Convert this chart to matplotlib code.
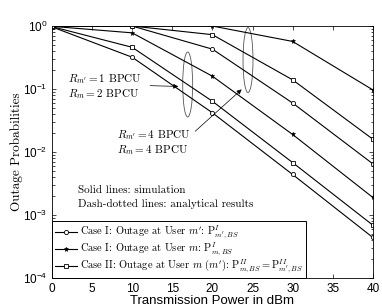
import numpy as np
import matplotlib
matplotlib.use('Agg')
import matplotlib.pyplot as plt
from matplotlib.patches import Ellipse
from matplotlib.font_manager import FontProperties

plt.rcParams['font.family'] = ['Liberation Sans', 'DejaVu Sans']
plt.rcParams['mathtext.fontset'] = 'cm'

# Transmission power (dBm)
power = [0, 10, 20, 30, 40]

# R_m' = 4, R_m = 4 BPCU
c1_mp_r44 = [1.0, 1.0, 0.43, 0.06, 0.0065]
c1_m_r44 = [1.0, 1.0, 1.0, 0.57, 0.097]
c2_r44 = [1.0, 1.0, 0.73, 0.14, 0.016]

# R_m' = 1, R_m = 2 BPCU
c1_mp_r12 = [0.97, 0.32, 0.042, 0.0044, 0.00044]
c1_m_r12 = [0.99, 0.78, 0.16, 0.019, 0.0019]
c2_r12 = [0.98, 0.46, 0.064, 0.0068, 0.00069]

labels = [r"Case I: Outage at User $m'$: $\mathrm{P}^{I}_{m',BS}$",
          r"Case I: Outage at User $m$: $\mathrm{P}^{I}_{m,BS}$",
          r"Case II: Outage at User $m$ ($m'$): $\mathrm{P}^{II}_{m,BS}=\mathrm{P}^{II}_{m',BS}$"]

serif = ['cmr10', 'DejaVu Serif']
fig = plt.figure(figsize=(3.82, 3.08), dpi=100)
ax = fig.add_axes([0.136, 0.0974, 0.840, 0.818])

kw = dict(color='black', lw=0.8)
circ = dict(marker='o', ms=3.0, mfc='white', mew=0.6)
star = dict(marker='*', ms=3.6, mfc='black', mew=0.4)
sq = dict(marker='s', ms=2.8, mfc='white', mew=0.6)

h1, = ax.plot(power, c1_mp_r12, **kw, **circ)
h2, = ax.plot(power, c1_m_r12, **kw, **star)
h3, = ax.plot(power, c2_r12, **kw, **sq)
ax.plot(power, c1_mp_r44, **kw, **circ)
ax.plot(power, c1_m_r44, **kw, **star)
ax.plot(power, c2_r44, **kw, **sq)

ax.set_yscale('log')
ax.set_xlim(0, 40)
ax.set_ylim(1e-4, 1)
ax.set_xticks(range(0, 41, 5))
ax.tick_params(which='both', direction='in', top=True, right=True, labelsize=8.5, width=0.5)
ax.tick_params(which='major', length=3)
ax.tick_params(which='minor', length=1.8)
for sp in ax.spines.values():
    sp.set_linewidth(0.6)

ax.set_xlabel('Transmission Power in dBm', fontsize=9.5, labelpad=0)
ax.set_ylabel('Outage Probabilities', fontsize=9.5, family=serif, labelpad=0)

# ellipses marking curve groups
for cx, cy in [(0.423, 0.768), (0.611, 0.865)]:
    ax.add_patch(Ellipse((cx, cy), 0.031, 0.258, transform=ax.transAxes,
                         fill=False, ec='#555555', lw=0.6))

tfont = dict(fontsize=8, family=serif, math_fontfamily='cm')
ax.annotate("", xy=(16.1, 10**-0.96), xytext=(11.9, 10**-0.945),
            arrowprops=dict(arrowstyle='-|>', color='black', lw=0.5, mutation_scale=7))
ax.text(2.0, 10**-0.96, "$R_{m'}=1$ BPCU\n$R_m=2$ BPCU", va='center', ha='left',
        linespacing=1.1, **tfont)
ax.annotate("", xy=(23.9, 10**-0.976), xytext=(17.6, 10**-1.70),
            arrowprops=dict(arrowstyle='-|>', color='black', lw=0.5, mutation_scale=7))
ax.text(8.1, 10**-1.85, "$R_{m'}=4$ BPCU\n$R_m=4$ BPCU", va='center', ha='left',
        linespacing=1.1, **tfont)

ax.text(3.25, 10**-2.61, 'Solid lines: simulation', va='center', ha='left', **tfont)
ax.text(3.25, 10**-2.82, 'Dash-dotted lines: analytical results', va='center', ha='left', **tfont)

leg = ax.legend([h1, h2, h3], labels, loc='lower left', bbox_to_anchor=(0, 0),
                borderaxespad=0, handlelength=2.2, handletextpad=0.25,
                labelspacing=0.0, borderpad=0.25, fancybox=False,
                prop=FontProperties(family=serif, size=7.5, math_fontfamily='cm'))
leg.get_frame().set_edgecolor('black')
leg.get_frame().set_linewidth(0.7)
leg.get_frame().set_alpha(1)

fig.savefig('out.png', dpi=100)
